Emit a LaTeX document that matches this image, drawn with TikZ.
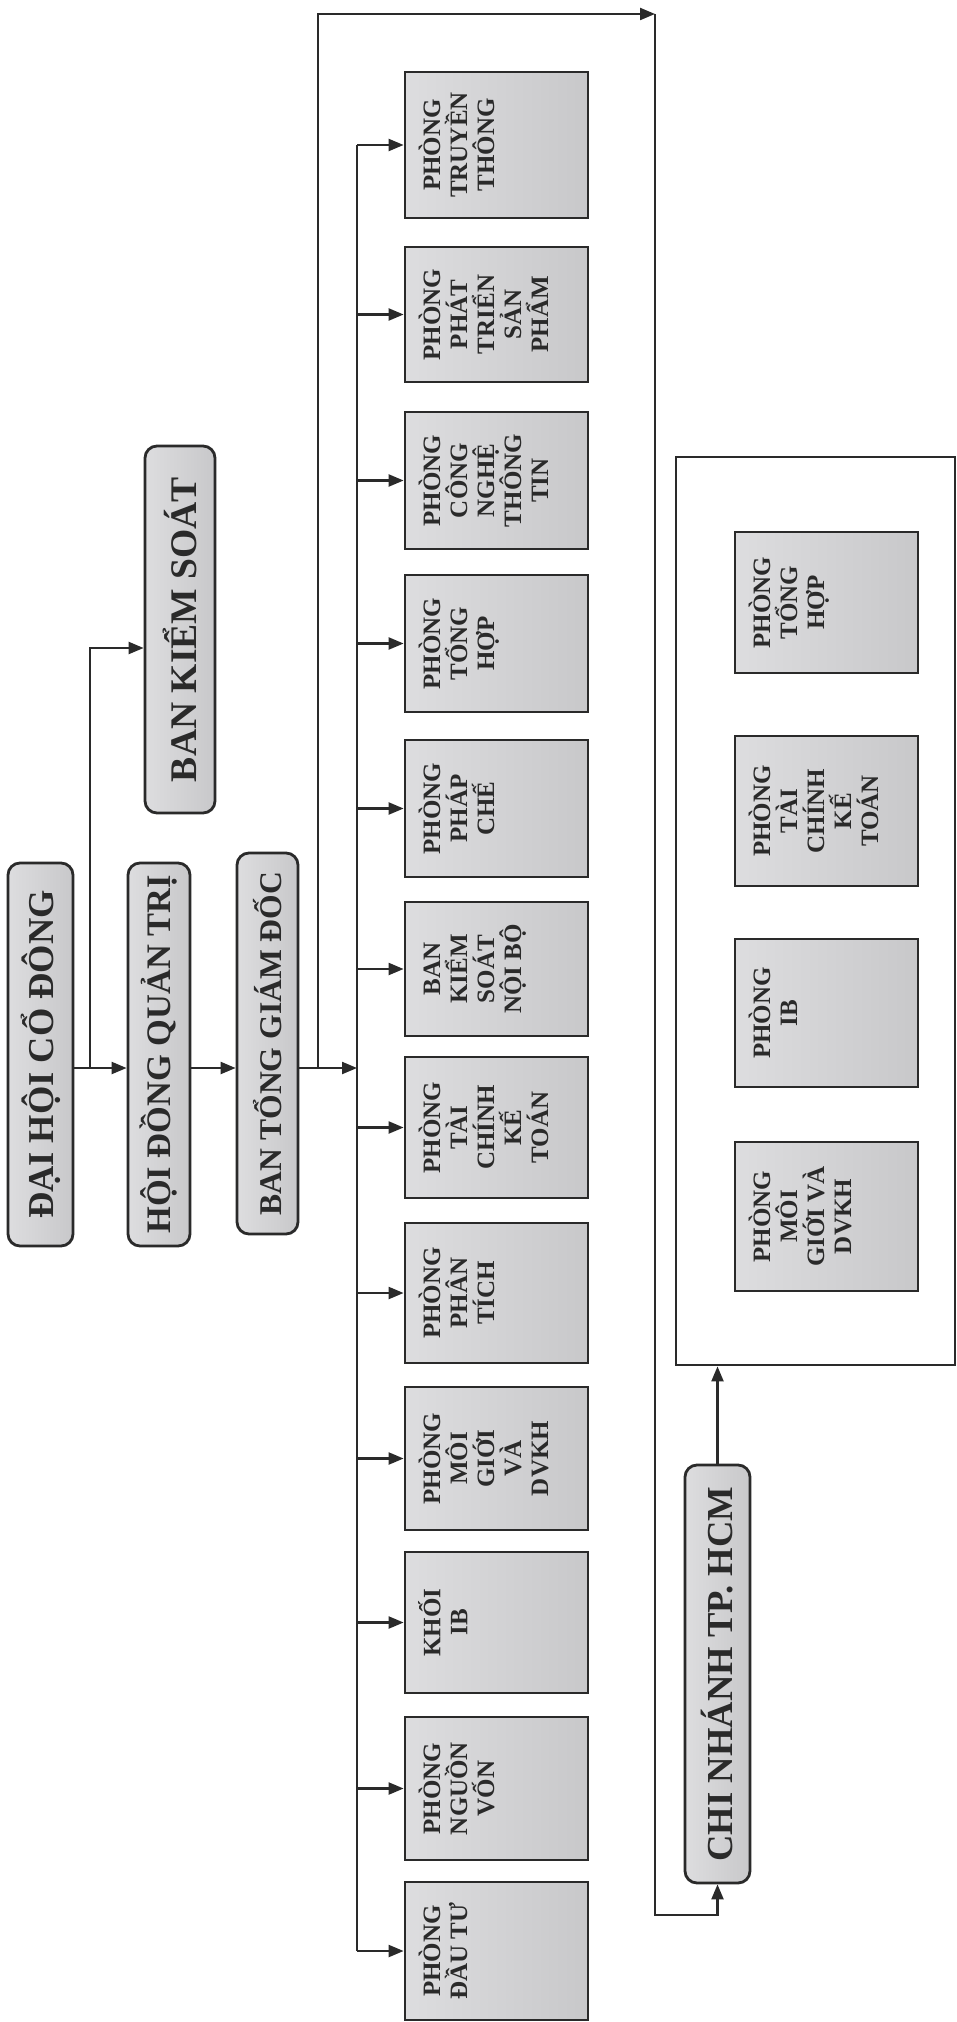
\documentclass[tikz,border=0pt]{standalone}
\usepackage{fontspec}
\setmainfont{Liberation Serif}
\usepackage{graphicx}
\usetikzlibrary{arrows.meta,calc}
\definecolor{ink}{HTML}{2A2A2A}
\definecolor{boxl}{HTML}{DDDDDF}
\definecolor{boxr}{HTML}{C8C8CA}
\tikzset{
  base/.style={draw=ink, line width=1.4pt, left color=boxl, right color=boxr, inner sep=0pt, text=ink, font=\bfseries},
  deptbox/.style={base, rectangle},
  topbox/.style={base, rounded corners=6pt},
  tf/.style={font=\bfseries\fontsize{#1}{#1}\selectfont},
  framebox/.style={draw=ink, line width=1.4pt, inner sep=0pt, fill=white},
  arr/.style={draw=ink, line width=1.1pt, -{Triangle[length=7.5pt,width=6pt]}},
  ln/.style={draw=ink, line width=1.1pt},
}
\newcommand{\deptnode}[6]{%
  \node[deptbox, minimum width=#4pt, minimum height=#5pt] (#1) at (#2,#3)
  {\rotatebox{90}{\begin{minipage}[c][#4pt][t]{#5pt}\centering\bfseries\fontsize{12.5}{13.5}\selectfont\vspace*{6.5pt}\rule{0pt}{11pt}#6\end{minipage}}};}
\begin{document}
\begin{tikzpicture}[x=0.5pt,y=-0.5pt]
\fill[white] (0,0) rectangle (957,2022);
\useasboundingbox (0,0) rectangle (957,2022);
% top level
\node[topbox, tf=18.2, minimum width=32.5pt, minimum height=191.5pt] (dhcd) at (40.5,1054.5) {\rotatebox{90}{ĐẠI HỘI CỔ ĐÔNG}};
\node[topbox, tf=17.2, minimum width=31pt, minimum height=191.5pt] (hdqt) at (159,1054.5) {\rotatebox{90}{HỘI ĐỒNG QUẢN TRỊ}};
\node[topbox, tf=15.8, minimum width=30.5pt, minimum height=190.5pt] (btgd) at (267.5,1043.5) {\rotatebox{90}{BAN TỔNG GIÁM ĐỐC}};
\node[topbox, tf=18.8, minimum width=35pt, minimum height=183.5pt] (bks) at (180,629.5) {\rotatebox{90}{BAN KIỂM SOÁT}};
\node[topbox, tf=18.3, minimum width=32.5pt, minimum height=209pt] (cn) at (717.5,1674) {\rotatebox{90}{CHI NHÁNH TP. HCM}};
% departments
\deptnode{d1}{496.5}{145}{91.5}{73}{PHÒNG\\TRUYỀN\\THÔNG}
\deptnode{d2}{496.5}{314.5}{91.5}{67.5}{PHÒNG\\PHÁT\\TRIỂN\\SẢN\\PHẨM}
\deptnode{d3}{496.5}{480.5}{91.5}{68.5}{PHÒNG\\CÔNG\\NGHỆ\\THÔNG\\TIN}
\deptnode{d4}{496.5}{643.5}{91.5}{68.5}{PHÒNG\\TỔNG\\HỢP}
\deptnode{d5}{496.5}{808.5}{91.5}{68.5}{PHÒNG\\PHÁP\\CHẾ}
\deptnode{d6}{496.5}{969}{91.5}{67}{BAN\\KIỂM\\SOÁT\\NỘI BỘ}
\deptnode{d7}{496.5}{1127.5}{91.5}{70.5}{PHÒNG\\TÀI\\CHÍNH\\KẾ\\TOÁN}
\deptnode{d8}{496.5}{1293}{91.5}{70}{PHÒNG\\PHÂN\\TÍCH}
\deptnode{d9}{496.5}{1458.5}{91.5}{71.5}{PHÒNG\\MÔI\\GIỚI\\VÀ\\DVKH}
\deptnode{d10}{496.5}{1622.5}{91.5}{70.5}{KHỐI\\IB}
\deptnode{d11}{496.5}{1788.5}{91.5}{71.5}{PHÒNG\\NGUỒN\\VỐN}
\deptnode{d12}{496.5}{1951}{91.5}{69}{PHÒNG\\ĐẦU TƯ}
% branch frame
\node[framebox, minimum width=139.5pt, minimum height=454pt] (frame) at (815.5,911) {};
\deptnode{b1}{826.5}{602.5}{91.5}{70.5}{PHÒNG\\TỔNG\\HỢP}
\deptnode{b2}{826.5}{811}{91.5}{75}{PHÒNG\\TÀI\\CHÍNH\\KẾ\\TOÁN}
\deptnode{b3}{826.5}{1013}{91.5}{74}{PHÒNG\\IB}
\deptnode{b4}{826.5}{1216.5}{91.5}{74.5}{PHÒNG\\MÔI\\GIỚI VÀ\\DVKH}
% connectors
\coordinate (j1) at (90,1068);
\coordinate (jb) at (90,648);
\coordinate (j2) at (318,1068);
\coordinate (bt) at (357,145);
\coordinate (bb) at (357,1951);
\coordinate (o1) at (318,14);
\coordinate (o2) at (655,14);
\coordinate (o3) at (655,1915);
\draw[ln] (dhcd.east |- j1) -- (j1);
\draw[arr] (j1) -- (hdqt.west |- j1);
\draw[arr] (j1) -- (jb) -- (bks.west |- jb);
\draw[arr] (hdqt.east |- j1) -- (btgd.west |- j1);
\draw[arr] (btgd.east |- j1) -- (bt |- j1);
\draw[ln] (bt) -- (bb);
\foreach \i in {1,...,12} \draw[arr] (bt |- d\i.west) -- (d\i.west);
\draw[arr] (j2) -- (o1) -- (o2);
\draw[arr] (o2) -- (o3) -| (cn.south);
\draw[arr] (cn.north) -- (cn.north |- frame.south);
\end{tikzpicture}
\end{document}
